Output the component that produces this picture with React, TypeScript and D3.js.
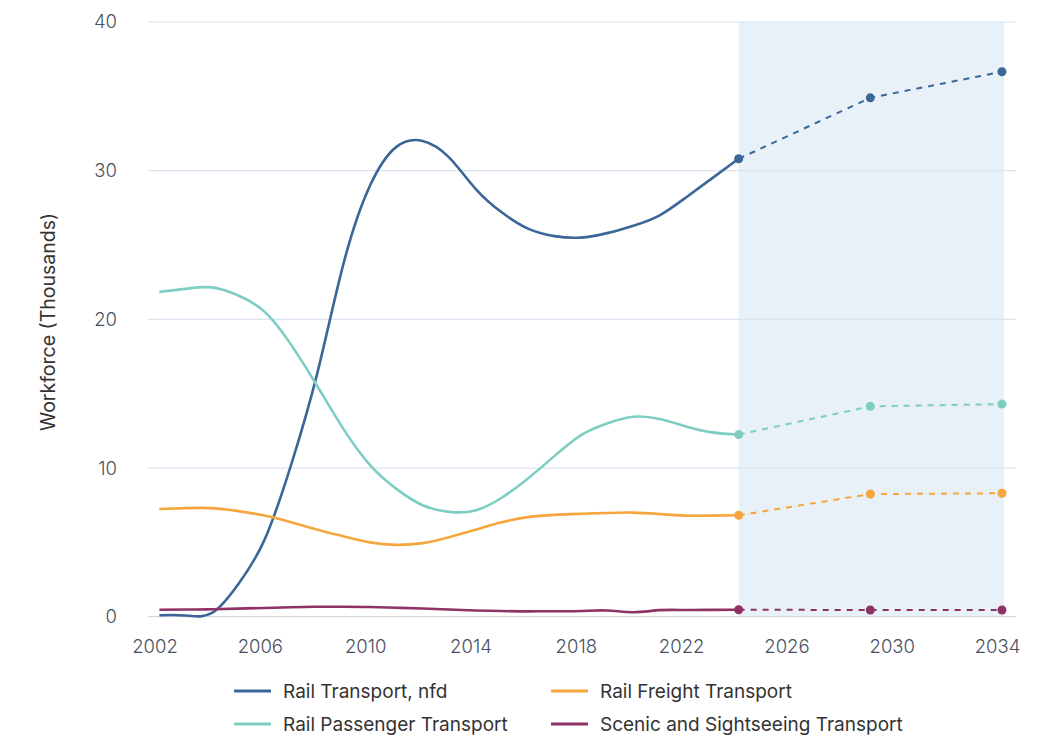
import React from "react";
import * as d3 from "d3";

// Historical annual observations (thousands), sampled each March
const histYears = [
  2002, 2003, 2004, 2005, 2006, 2007, 2008, 2009, 2010, 2011, 2012, 2013,
  2014, 2015, 2016, 2017, 2018, 2019, 2020, 2021, 2022, 2023, 2024,
];
const railNfd = [
  0.1, 0.08, 0.25, 2.2, 5.2, 10.2, 16.4, 23.8, 29.0, 31.6, 32.0, 30.9,
  28.8, 27.2, 26.1, 25.6, 25.5, 25.8, 26.3, 27.0, 28.2, 29.5, 30.8,
];
const railPassenger = [
  21.85, 22.05, 22.15, 21.6, 20.5, 18.3, 15.5, 12.6, 10.2, 8.6, 7.5, 7.05,
  7.15, 8.0, 9.3, 10.8, 12.2, 13.0, 13.45, 13.3, 12.8, 12.4, 12.25,
];
const railFreight = [
  7.24, 7.3, 7.3, 7.1, 6.8, 6.35, 5.85, 5.4, 5.0, 4.83, 4.95, 5.35,
  5.85, 6.35, 6.7, 6.85, 6.92, 6.98, 7.0, 6.9, 6.8, 6.8, 6.82,
];
const scenic = [
  0.47, 0.48, 0.5, 0.54, 0.59, 0.64, 0.67, 0.67, 0.65, 0.6, 0.55, 0.48,
  0.42, 0.38, 0.36, 0.37, 0.38, 0.42, 0.3, 0.44, 0.45, 0.46, 0.47,
];

// Projections
const forecastYears = [2024, 2029, 2034];
const railNfdForecast = [30.8, 34.9, 36.65];
const railPassengerForecast = [12.25, 14.15, 14.3];
const railFreightForecast = [6.82, 8.25, 8.3];
const scenicForecast = [0.47, 0.45, 0.45];

const seriesNames = [
  "Rail Transport, nfd",
  "Rail Freight Transport",
  "Rail Passenger Transport",
  "Scenic and Sightseeing Transport",
];

const xTicks = [2002, 2006, 2010, 2014, 2018, 2022, 2026, 2030, 2034];
const yTicks = [0, 10, 20, 30, 40];

const MONTH_OFFSET = 2 / 12;

const series = [
  { name: seriesNames[0], color: "#3b6798", hist: railNfd, fc: railNfdForecast },
  { name: seriesNames[2], color: "#7dcdc3", hist: railPassenger, fc: railPassengerForecast },
  { name: seriesNames[1], color: "#f5a63d", hist: railFreight, fc: railFreightForecast },
  { name: seriesNames[3], color: "#8f3266", hist: scenic, fc: scenicForecast },
];

const legendOrder = [
  { name: seriesNames[0], color: "#3b6798" },
  { name: seriesNames[1], color: "#f5a63d" },
  { name: seriesNames[2], color: "#7dcdc3" },
  { name: seriesNames[3], color: "#8f3266" },
];

const FONT = "Inter, 'Open Sans', sans-serif";

export default function App() {
  const width = 1046;
  const height = 738;
  const left = 148;
  const right = 1016;

  const x = d3.scaleLinear().domain([2001.734, 2034.7]).range([left, right]);
  const y = d3.scaleLinear().domain([0, 40]).range([616.7, 22]);

  const line = d3
    .line<[number, number]>()
    .x((d) => x(d[0]))
    .y((d) => y(d[1]))
    .curve(d3.curveNatural);

  const straight = d3
    .line<[number, number]>()
    .x((d) => x(d[0]))
    .y((d) => y(d[1]));

  const fx0 = x(forecastYears[0] + MONTH_OFFSET);
  const fx1 = x(forecastYears[forecastYears.length - 1] + MONTH_OFFSET);

  return (
    <svg width={width} height={height} style={{ display: "block", position: "absolute", left: 0, top: 0 }}>
      <rect width={width} height={height} fill="#ffffff" />
      {/* projection band */}
      <rect x={fx0} y={y(40)} width={fx1 - fx0 + 2} height={y(0) - y(40)} fill="#e8f0f8" />
      {/* grid */}
      {yTicks.map((t) => (
        <g key={t}>
          <line
            x1={left}
            x2={right}
            y1={y(t)}
            y2={y(t)}
            stroke={t === 0 ? "#d9d9d9" : "#dbe3f0"}
            strokeWidth={1.2}
          />
          <text
            x={117}
            y={y(t)}
            dy="0.35em"
            textAnchor="end"
            fontFamily={FONT}
            fontWeight={300}
            fontSize={18.5}
            fill="#4a5061"
          >
            {t}
          </text>
        </g>
      ))}
      {xTicks.map((t) => (
        <text
          key={t}
          x={x(t)}
          y={653}
          textAnchor="middle"
          fontFamily={FONT}
          fontWeight={300}
          fontSize={18.5}
          fill="#4a5061"
        >
          {t}
        </text>
      ))}
      <text
        transform={`translate(55, 322) rotate(-90)`}
        textAnchor="middle"
        fontFamily={FONT}
        fontSize={19.5}
        fill="#333"
      >
        Workforce (Thousands)
      </text>

      {series.map((s) => {
        const hist: [number, number][] = histYears.map((yr, i) => [yr + MONTH_OFFSET, s.hist[i]]);
        const fc: [number, number][] = forecastYears.map((yr, i) => [yr + MONTH_OFFSET, s.fc[i]]);
        return (
          <g key={s.name}>
            <path d={line(hist) ?? ""} fill="none" stroke={s.color} strokeWidth={2.6} />
            <path
              d={straight(fc) ?? ""}
              fill="none"
              stroke={s.color}
              strokeWidth={2}
              strokeDasharray="6,6"
            />
            {fc.map((d, i) => (
              <circle key={i} cx={x(d[0])} cy={y(d[1])} r={4.5} fill={s.color} />
            ))}
          </g>
        );
      })}

      {/* legend */}
      {legendOrder.map((l, i) => {
        const col = i % 2;
        const row = Math.floor(i / 2);
        const lx = col === 0 ? 234 : 551;
        const ly = row === 0 ? 691 : 724;
        return (
          <g key={l.name}>
            <line x1={lx} x2={lx + 37} y1={ly} y2={ly} stroke={l.color} strokeWidth={3} />
            <text
              x={lx + 49}
              y={ly}
              dy="0.35em"
              fontFamily={FONT}
              fontSize={19}
              fill="#333"
            >
              {l.name}
            </text>
          </g>
        );
      })}
    </svg>
  );
}
